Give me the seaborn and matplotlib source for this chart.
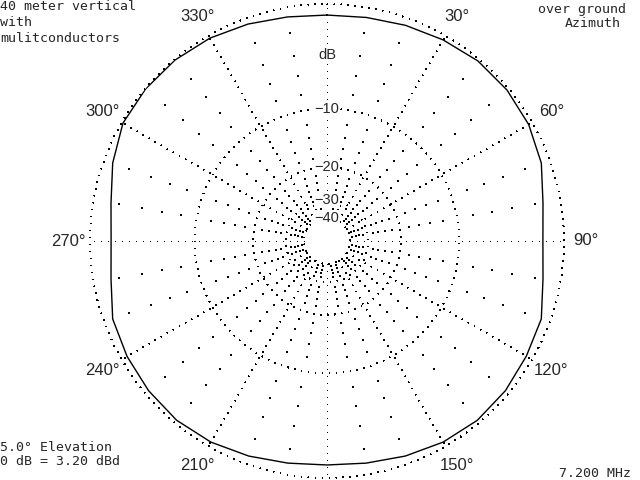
import numpy as np
import pandas as pd
import matplotlib.pyplot as plt
import seaborn as sns

# azimuth pattern, dB relative to max (ARRL log scale)
azimuth_deg = [0, 10, 20, 30, 40, 50, 60, 70, 80, 90, 100, 110,
               120, 130, 140, 150, 160, 170, 180, 190, 200, 210, 220, 230,
               240, 250, 260, 270, 280, 290, 300, 310, 320, 330, 340, 350]
gain_db = [-0.82, -0.74, -0.55, -0.35, -0.15, -0.15, -0.30, -0.66, -1.33, -1.60, -1.33, -0.66,
           -0.50, -0.30, -0.22, -0.35, -0.60, -0.85, -0.97, -0.85, -0.60, -0.35, -0.22, -0.30,
           -0.45, -0.66, -1.33, -1.60, -1.33, -0.66, -0.10, -0.02, -0.05, -0.20, -0.45, -0.70]

ring_db = [0, -10, -20, -30, -40]
ring_text = ['dB', '\u221210', '\u221220', '\u221230', '\u221240']
angle_ticks = [30, 60, 90, 120, 150, 210, 240, 270, 300, 330]

top_left = ['40 meter vertical', 'with', 'mulitconductors']
top_right = ['over ground', 'Azimuth']
bottom_left = ['5.0\u00b0 Elevation', '0 dB = 3.20 dBd']
bottom_right = '7.200 MHz'


def to_r(db):
    # ARRL log scale: radius x0.89 every 2 dB
    return 0.89 ** (-np.asarray(db, dtype=float) / 2)


sns.set_style('white')
plt.rcParams['font.family'] = ['DejaVu Sans']

fig = plt.figure(figsize=(6.4, 4.8), dpi=100)
W, H = 640, 480
cx, cy, R = 327, 241, 237
ax = fig.add_axes([(cx - R) / W, (H - cy - R) / H, 2 * R / W, 2 * R / H], projection='polar')
ax.set_theta_zero_location('N')
ax.set_theta_direction(-1)
ax.set_ylim(0, 1)
ax.set_xticks([])
ax.set_yticks([])
ax.grid(False)
ax.spines['polar'].set_visible(False)
ax.set_facecolor('white')

dot = (0, (0.7, 6))
th = np.linspace(0, 2 * np.pi, 721)
r_in = to_r(-40)
grid_kw = dict(color='black', lw=0.72, ls=dot, clip_on=False, antialiased=False)

# rings
for db in ring_db:
    ax.plot(th, np.full_like(th, to_r(db)), **grid_kw)

# radial lines every 30 deg
for a in range(0, 360, 30):
    ax.plot([np.radians(a)] * 2, [r_in, 1.0], **grid_kw)

# sparse dots at 10 deg spokes every 2 dB
dot_a, dot_r = [], []
for a in range(10, 360, 10):
    if a % 30 == 0:
        continue
    for db in range(-2, -40, -2):
        if db % 10 == 0:
            continue
        dot_a.append(np.radians(a))
        dot_r.append(to_r(db))
ax.scatter(dot_a, dot_r, s=1, marker=',', color='black', linewidths=0)

# pattern trace
df = pd.DataFrame({'theta': np.radians(azimuth_deg + [360]),
                   'r': to_r(gain_db + [gain_db[0]])})
sns.lineplot(data=df, x='theta', y='r', sort=False, color='black', lw=1.0, ax=ax)
ax.set_xlabel('')
ax.set_ylabel('')
ax.set_ylim(0, 1)

# ring labels on the 0 deg spoke
box = dict(facecolor='white', edgecolor='none', pad=0.5)
label_r = [0.785] + [to_r(d) for d in ring_db[1:]]
for txt, rr in zip(ring_text, label_r):
    ax.text(0, rr, txt, ha='center', va='center', fontsize=10.5,
            family='Liberation Sans', bbox=box, zorder=5)

for a in angle_ticks:
    ax.text(np.radians(a), 1.093, f'{a}\u00b0', ha='center', va='center',
            fontsize=12, family='Liberation Sans', clip_on=False)

mono = dict(family='DejaVu Sans Mono', fontsize=9.5, va='baseline')
for i, t in enumerate(top_left):
    fig.text(0 / W, 1 - (10 + 16 * i) / H, t, ha='left', **mono)
fig.text(626 / W, 1 - 13 / H, top_right[0], ha='right', **mono)
fig.text(621 / W, 1 - 27 / H, top_right[1], ha='right', **mono)
fig.text(0 / W, 1 - 451 / H, bottom_left[0], ha='left', **mono)
fig.text(0 / W, 1 - 465 / H, bottom_left[1], ha='left', **mono)
fig.text(631 / W, 1 - 477 / H, bottom_right, ha='right', **mono)

fig.savefig('out.png', dpi=100, facecolor='white')
